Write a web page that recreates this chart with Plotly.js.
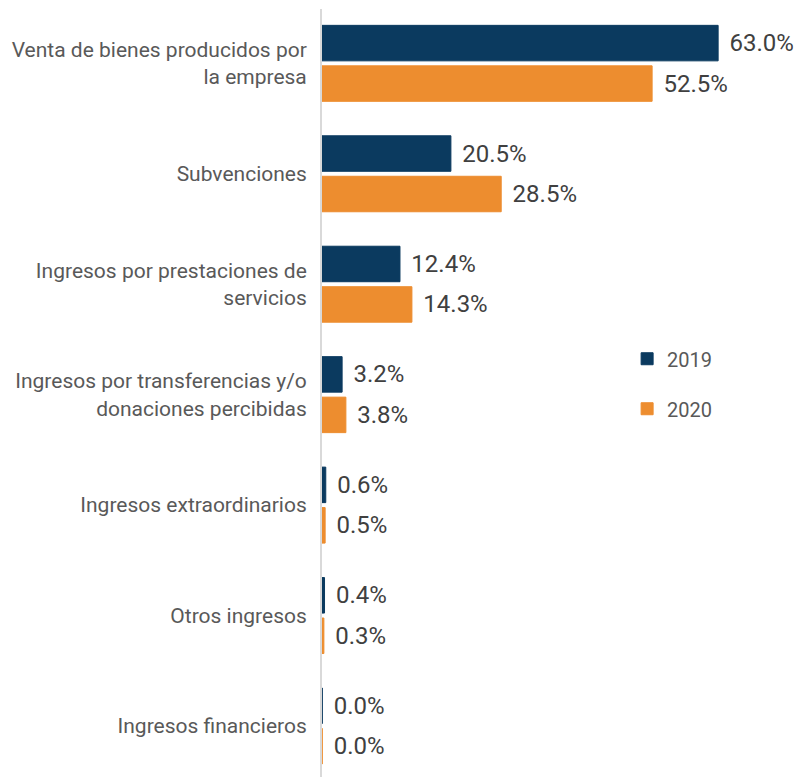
<!DOCTYPE html>
<html>
<head>
<meta charset="utf-8">
<script src="https://cdn.plot.ly/plotly-3.0.1.min.js"></script>
<style>html,body{margin:0;padding:0;background:#fff;}#chart{width:798px;height:777px;}</style>
</head>
<body>
<div id="chart"></div>
<script>
const categories = [
  "Venta de bienes producidos por<br>la empresa",
  "Subvenciones",
  "Ingresos por prestaciones de<br>servicios",
  "Ingresos por transferencias y/o<br>donaciones percibidas",
  "Ingresos extraordinarios",
  "Otros ingresos",
  "Ingresos financieros"
];
const values2019 = [63.0, 20.5, 12.4, 3.2, 0.6, 0.4, 0.04];
const values2020 = [52.5, 28.5, 14.3, 3.8, 0.5, 0.3, 0.04];
const seriesNames = ["2019", "2020"];
const seriesColors = ["#0B3A5F", "#ED8D2F"];

function makeTrace(vals, i) {
  return {
    type: "bar",
    orientation: "h",
    name: seriesNames[i],
    legendgroup: seriesNames[i],
    x: vals,
    y: categories,
    marker: {color: seriesColors[i], line: {width: 1, color: seriesColors[i]}},
    texttemplate: "\u00a0\u200a%{x:.1f}%",
    textposition: "outside",
    constraintext: "none",
    cliponaxis: false,
    textfont: {family: "Roboto, sans-serif", size: 24, color: "#404040"},
    hoverinfo: "none"
  };
}

const data = [makeTrace(values2019, 0), makeTrace(values2020, 1)];

const layout = {
  width: 798,
  height: 777,
  margin: {l: 322, r: 0, t: 9, b: 0, pad: 0},
  paper_bgcolor: "#ffffff",
  plot_bgcolor: "#ffffff",
  barmode: "group",
  bargap: 0.267,
  bargroupgap: 0.123,
  font: {family: "Roboto, sans-serif", color: "#595959"},
  xaxis: {range: [0, 75.7], visible: false, showgrid: false, zeroline: false},
  yaxis: {
    type: "category",
    range: [6.462, -0.492],
    showline: true,
    linecolor: "#d9d9d9",
    linewidth: 2,
    showgrid: false,
    zeroline: false,
    ticks: "",
    ticklabelstandoff: 9,
    tickfont: {family: "Roboto, sans-serif", size: 21, color: "#595959"}
  },
  showlegend: true,
  legend: {
    x: 0.641, y: 0.570, xanchor: "left", yanchor: "top",
    font: {family: "Roboto, sans-serif", size: 20, color: "#595959"},
    tracegroupgap: 21,
    bgcolor: "rgba(0,0,0,0)"
  }
};

Plotly.newPlot("chart", data, layout, {staticPlot: true, displayModeBar: false});
</script>
</body>
</html>
